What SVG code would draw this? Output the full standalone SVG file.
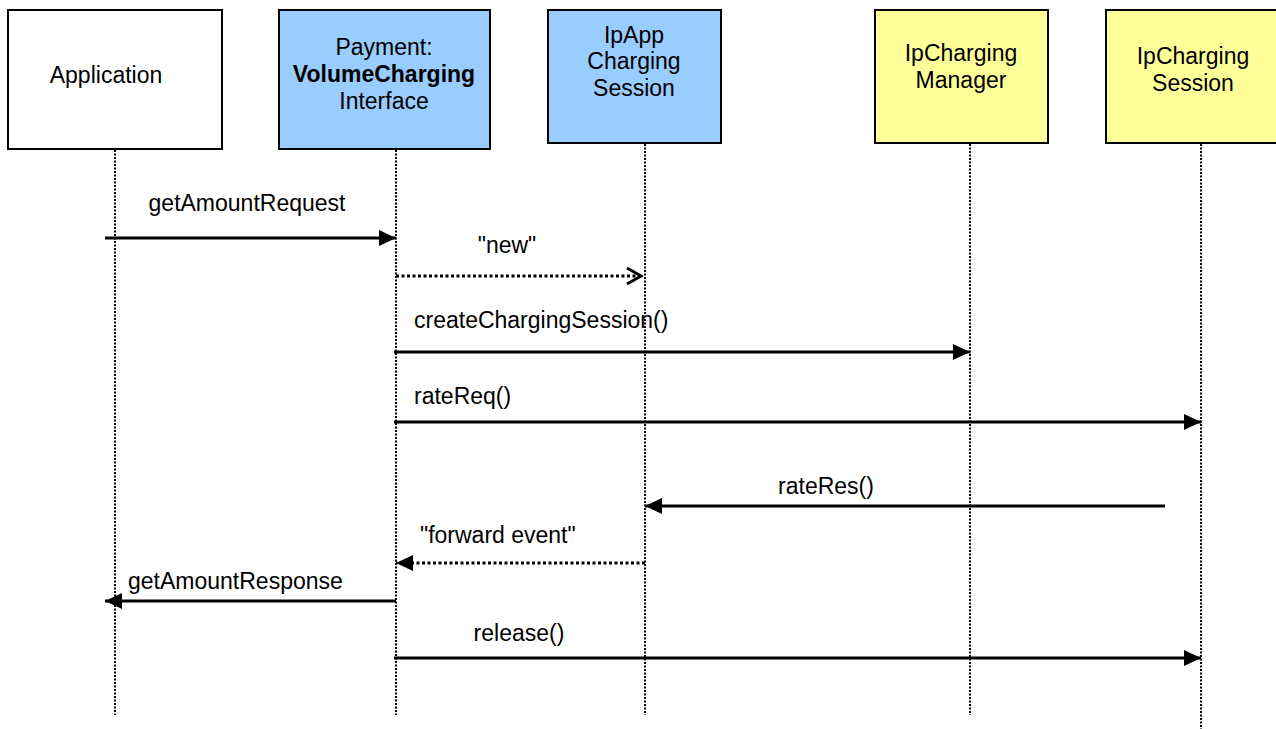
<svg xmlns="http://www.w3.org/2000/svg" width="1276" height="729" viewBox="0 0 1276 729">
<defs>
<style>
text{font-family:"Liberation Sans",Arial,sans-serif;font-size:23px;fill:#000;text-anchor:middle}
.lbl{text-anchor:start}
.b{font-weight:bold}
.box{stroke:#000;stroke-width:2}
.white{fill:#fff}
.blue{fill:#99ccff}
.yellow{fill:#ffff99}
.life{stroke:#000;stroke-width:2;stroke-dasharray:2 1.5;fill:none}
.msg{stroke:#000;stroke-width:3;fill:none}
.dot{stroke:#000;stroke-width:3;stroke-dasharray:3 2.5;fill:none}
</style>
<marker id="ah" markerUnits="userSpaceOnUse" markerWidth="18" markerHeight="18" refX="17" refY="9" orient="auto">
<path d="M0,1 L17,9 L0,17 Z" fill="#000"/>
</marker>
<marker id="open" markerUnits="userSpaceOnUse" markerWidth="20" markerHeight="20" refX="17" refY="10" orient="auto">
<path d="M3,2 L17,10 L3,18" fill="none" stroke="#000" stroke-width="3"/>
</marker>
</defs>
<rect width="1276" height="729" fill="#fff"/>
<g id="node-application">
<rect class="box white" x="8" y="10" width="214" height="139"/>
<text x="106" y="83">Application</text>
</g>
<g id="node-payment">
<rect class="box blue" x="279" y="10" width="211" height="139"/>
<text x="384" y="55">Payment:</text>
<text class="b" x="384" y="82">VolumeCharging</text>
<text x="384" y="109">Interface</text>
</g>
<g id="node-ipapp">
<rect class="box blue" x="548" y="10" width="173" height="133"/>
<text x="634" y="43">IpApp</text>
<text x="634" y="69">Charging</text>
<text x="634" y="96">Session</text>
</g>
<g id="node-manager">
<rect class="box yellow" x="875" y="10" width="173" height="133"/>
<text x="961" y="61">IpCharging</text>
<text x="961" y="88">Manager</text>
</g>
<g id="node-session">
<rect class="box yellow" x="1106" y="10" width="172" height="133"/>
<text x="1193" y="64">IpCharging</text>
<text x="1193" y="91">Session</text>
</g>
<g id="connectors">
<line class="life" x1="115" y1="150" x2="115" y2="715"/>
<line class="life" x1="396" y1="150" x2="396" y2="715"/>
<line class="life" x1="645" y1="144" x2="645" y2="715"/>
<line class="life" x1="970" y1="144" x2="970" y2="715"/>
<line class="life" x1="1201" y1="144" x2="1201" y2="729"/>
<line class="msg" x1="105" y1="238" x2="396" y2="238" marker-end="url(#ah)"/>
<line class="dot" x1="396" y1="276" x2="641" y2="276" marker-end="url(#open)"/>
<line class="msg" x1="394" y1="352" x2="970" y2="352" marker-end="url(#ah)"/>
<line class="msg" x1="394" y1="422" x2="1201" y2="422" marker-end="url(#ah)"/>
<line class="msg" x1="1165" y1="506" x2="645" y2="506" marker-end="url(#ah)"/>
<line class="dot" x1="645" y1="563" x2="396" y2="563" marker-end="url(#ah)"/>
<line class="msg" x1="396" y1="601" x2="105" y2="601" marker-end="url(#ah)"/>
<line class="msg" x1="394" y1="658" x2="1201" y2="658" marker-end="url(#ah)"/>
<text x="247" y="211">getAmountRequest</text>
<text x="507" y="253">"new"</text>
<text class="lbl" x="414" y="328">createChargingSession()</text>
<text class="lbl" x="414" y="404">rateReq()</text>
<text x="826" y="494">rateRes()</text>
<text class="lbl" x="420" y="543">"forward event"</text>
<text class="lbl" x="128" y="589">getAmountResponse</text>
<text x="519" y="641">release()</text>
</g>
</svg>
